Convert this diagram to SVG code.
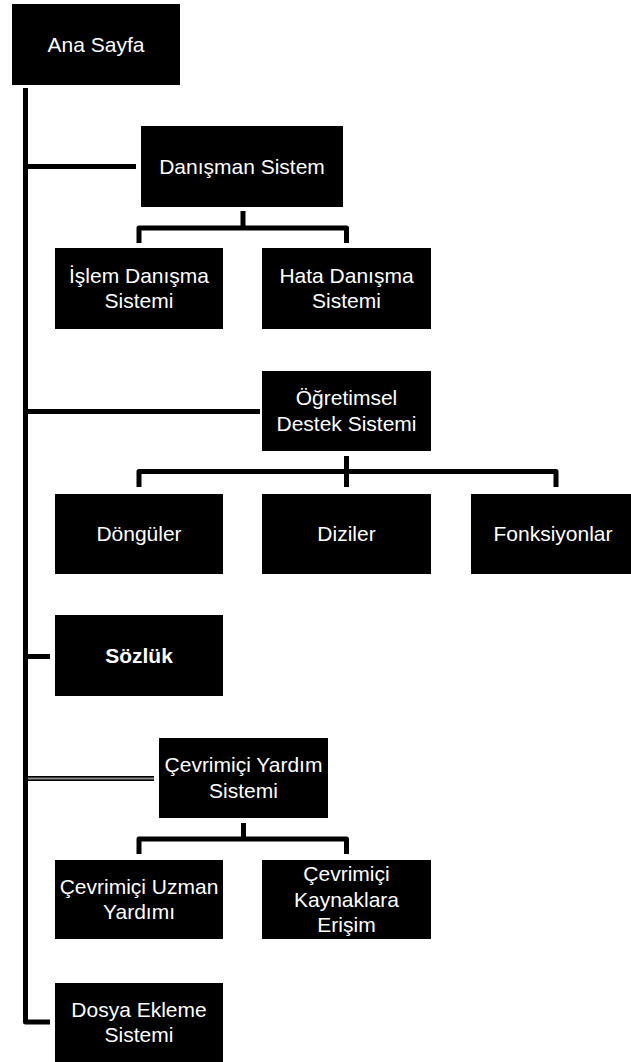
<svg xmlns="http://www.w3.org/2000/svg" width="631" height="1062" viewBox="0 0 631 1062">
  <style>
    .box { fill: #000; }
    .lbl { font-family: "Liberation Sans", Arial, sans-serif; font-size: 21px; fill: #fff; text-anchor: middle; }
    .bold { font-weight: bold; }
    .wire { fill: none; stroke: #000; stroke-width: 5; stroke-linejoin: round; stroke-linecap: butt; }
    .inner { fill: none; stroke: #8a8a8a; stroke-width: 2; }
  </style>
  <rect width="631" height="1062" fill="#fff"/>

  <!-- connectors -->
  <g id="connectors">
    <path class="wire" d="M25.5 88 V1022 H50"/>
    <path class="wire" d="M28 166.5 H136"/>
    <path class="wire" d="M243 211 V228"/>
    <path class="wire" d="M139 243 V228 H346.5 V243"/>
    <path class="wire" d="M28 411.5 H260"/>
    <path class="wire" d="M346.5 456 V487"/>
    <path class="wire" d="M139 487 V471.5 H556 V487"/>
    <path class="wire" d="M28 656.5 H50"/>
    <path class="wire" d="M28 778.5 H154"/>
    <path class="inner" d="M28 778.5 H154"/>
    <path class="wire" d="M243.5 823 V839"/>
    <path class="wire" d="M139 854 V839 H346.5 V854"/>
  </g>

  <g id="ana-sayfa">
    <rect class="box" x="12" y="4" width="168" height="81"/>
    <text class="lbl" x="96" y="52">Ana Sayfa</text>
  </g>

  <g id="danisman-sistem">
    <rect class="box" x="141" y="126" width="202" height="81"/>
    <text class="lbl" x="242" y="173.5">Danışman Sistem</text>
  </g>

  <g id="islem-danisma">
    <rect class="box" x="55" y="248" width="168" height="81"/>
    <text class="lbl" x="139" y="282.75">İşlem Danışma</text>
    <text class="lbl" x="139" y="308.25">Sistemi</text>
  </g>

  <g id="hata-danisma">
    <rect class="box" x="262" y="248" width="169" height="81"/>
    <text class="lbl" x="346.5" y="282.75">Hata Danışma</text>
    <text class="lbl" x="346.5" y="308.25">Sistemi</text>
  </g>

  <g id="ogretimsel-destek">
    <rect class="box" x="262" y="371" width="169" height="80"/>
    <text class="lbl" x="346.5" y="405.25">Öğretimsel</text>
    <text class="lbl" x="346.5" y="430.75">Destek Sistemi</text>
  </g>

  <g id="donguler">
    <rect class="box" x="55" y="494" width="168" height="80"/>
    <text class="lbl" x="139" y="541">Döngüler</text>
  </g>

  <g id="diziler">
    <rect class="box" x="262" y="494" width="169" height="80"/>
    <text class="lbl" x="346.5" y="541">Diziler</text>
  </g>

  <g id="fonksiyonlar">
    <rect class="box" x="471" y="494" width="160" height="80"/>
    <text class="lbl" x="553" y="541">Fonksiyonlar</text>
  </g>

  <g id="sozluk">
    <rect class="box" x="55" y="615" width="168" height="81"/>
    <text class="lbl bold" x="139" y="662.5">Sözlük</text>
  </g>

  <g id="cevrimici-yardim">
    <rect class="box" x="159" y="738" width="169" height="80"/>
    <text class="lbl" x="243.5" y="772.25">Çevrimiçi Yardım</text>
    <text class="lbl" x="243.5" y="797.75">Sistemi</text>
  </g>

  <g id="cevrimici-uzman">
    <rect class="box" x="55" y="860" width="168" height="79"/>
    <text class="lbl" x="139" y="893.75">Çevrimiçi Uzman</text>
    <text class="lbl" x="139" y="919.25">Yardımı</text>
  </g>

  <g id="cevrimici-kaynak">
    <rect class="box" x="262" y="860" width="169" height="79"/>
    <text class="lbl" x="346.5" y="881">Çevrimiçi</text>
    <text class="lbl" x="346.5" y="906.5">Kaynaklara</text>
    <text class="lbl" x="346.5" y="932">Erişim</text>
  </g>

  <g id="dosya-ekleme">
    <rect class="box" x="55" y="983" width="168" height="79"/>
    <text class="lbl" x="139" y="1016.75">Dosya Ekleme</text>
    <text class="lbl" x="139" y="1042.25">Sistemi</text>
  </g>
</svg>
